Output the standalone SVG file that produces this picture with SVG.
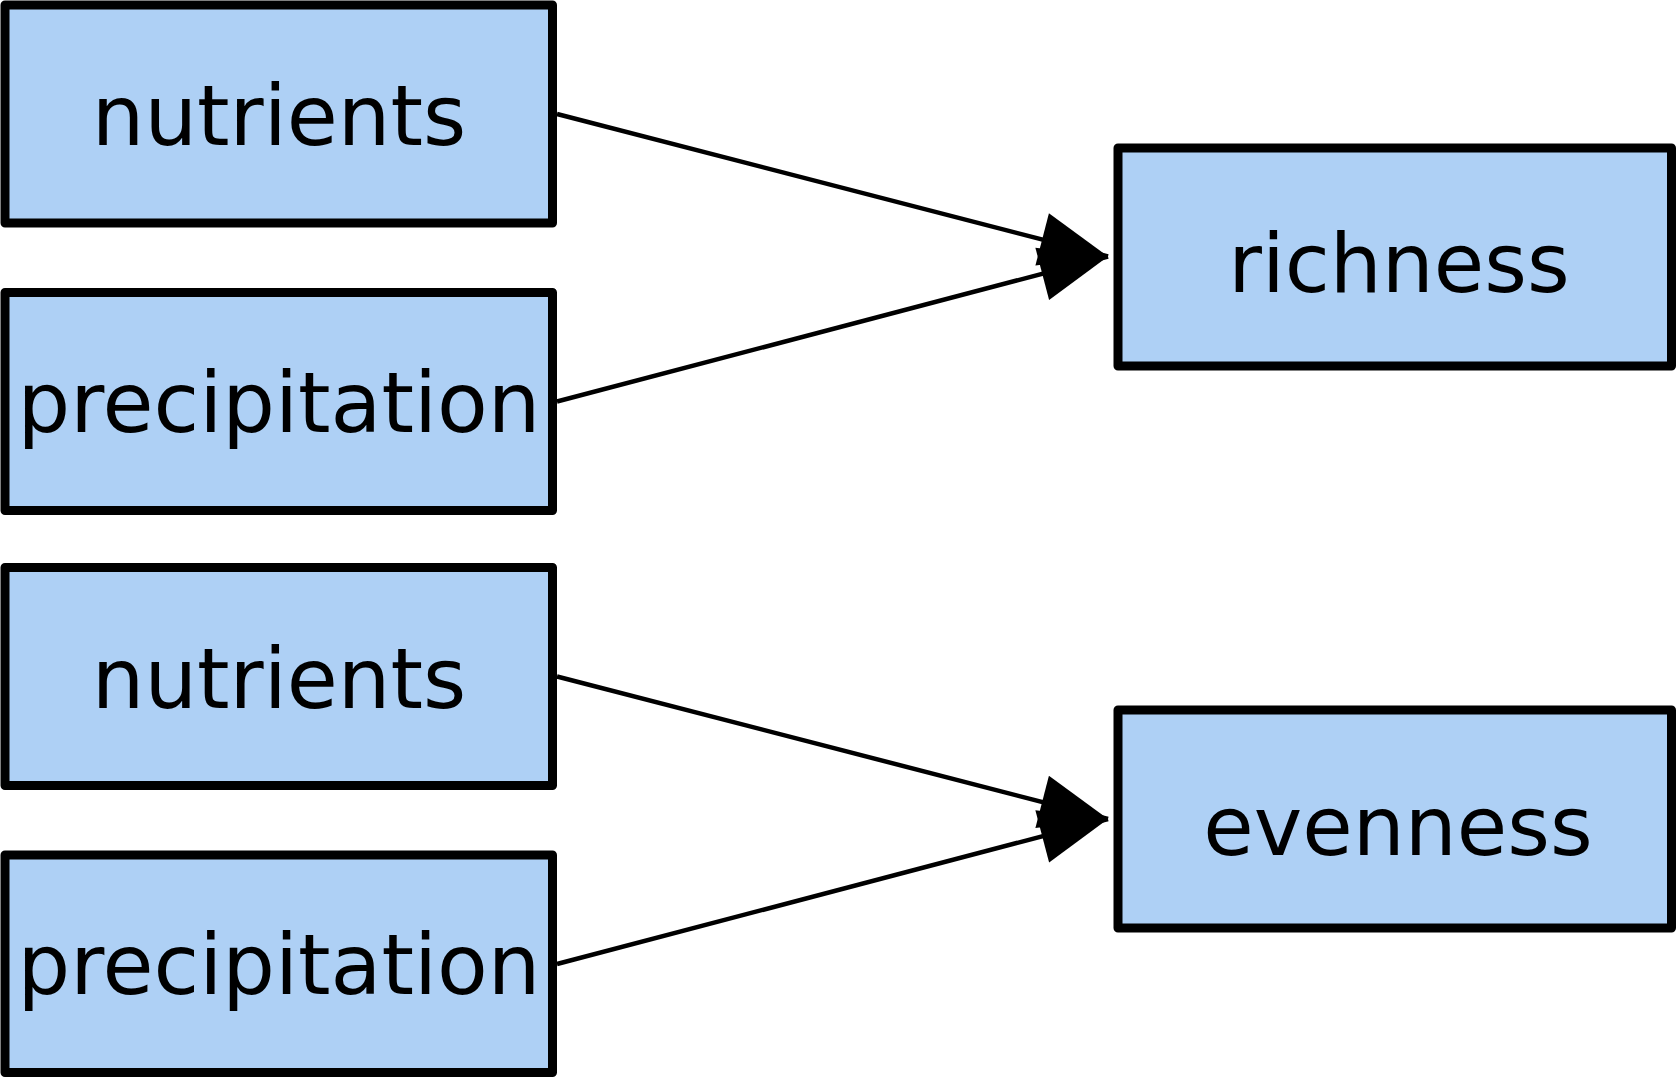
<svg xmlns="http://www.w3.org/2000/svg" width="1676" height="1078" viewBox="0 0 1676 1078">
  <style>
    .box { fill: #aed0f5; stroke: #000; stroke-width: 9; stroke-linejoin: round; }
    .lbl { font-family: "DejaVu Sans", Verdana, sans-serif; font-size: 82px; fill: #000; text-anchor: middle; }
    .lbl.l { font-size: 83px; }
    .edge { fill: none; stroke: #000; stroke-width: 4.5; }
  </style>
  <defs>
    <marker id="arr" markerUnits="userSpaceOnUse" markerWidth="80" markerHeight="60" refX="68" refY="27" orient="auto" overflow="visible">
      <path d="M0,0 L68,27 L0,54 Z" fill="#000"/>
    </marker>
  </defs>
  <rect width="1676" height="1078" fill="#fff"/>
  <g id="connectors">
    <path class="edge" d="M557,114 L1108,256.5" marker-end="url(#arr)"/>
    <path class="edge" d="M557,401.5 L1108,256.5" marker-end="url(#arr)"/>
    <path class="edge" d="M557,676.5 L1108,819" marker-end="url(#arr)"/>
    <path class="edge" d="M557,964 L1108,819" marker-end="url(#arr)"/>
  </g>
  <g id="nutrients1">
    <rect class="box" x="5" y="5" width="547.5" height="218"/>
    <text class="lbl l" x="279" y="145">nutrients</text>
  </g>
  <g id="precipitation1">
    <rect class="box" x="5" y="292.5" width="547.5" height="218"/>
    <text class="lbl l" x="279" y="432">precipitation</text>
  </g>
  <g id="nutrients2">
    <rect class="box" x="5" y="567.5" width="547.5" height="218"/>
    <text class="lbl l" x="279" y="708">nutrients</text>
  </g>
  <g id="precipitation2">
    <rect class="box" x="5" y="855" width="547.5" height="217.5"/>
    <text class="lbl l" x="279" y="994">precipitation</text>
  </g>
  <g id="richness">
    <rect class="box" x="1118" y="148" width="553.5" height="218"/>
    <text class="lbl" x="1399" y="292">richness</text>
  </g>
  <g id="evenness">
    <rect class="box" x="1118" y="710" width="553.5" height="218"/>
    <text class="lbl" x="1398" y="855">evenness</text>
  </g>
</svg>
